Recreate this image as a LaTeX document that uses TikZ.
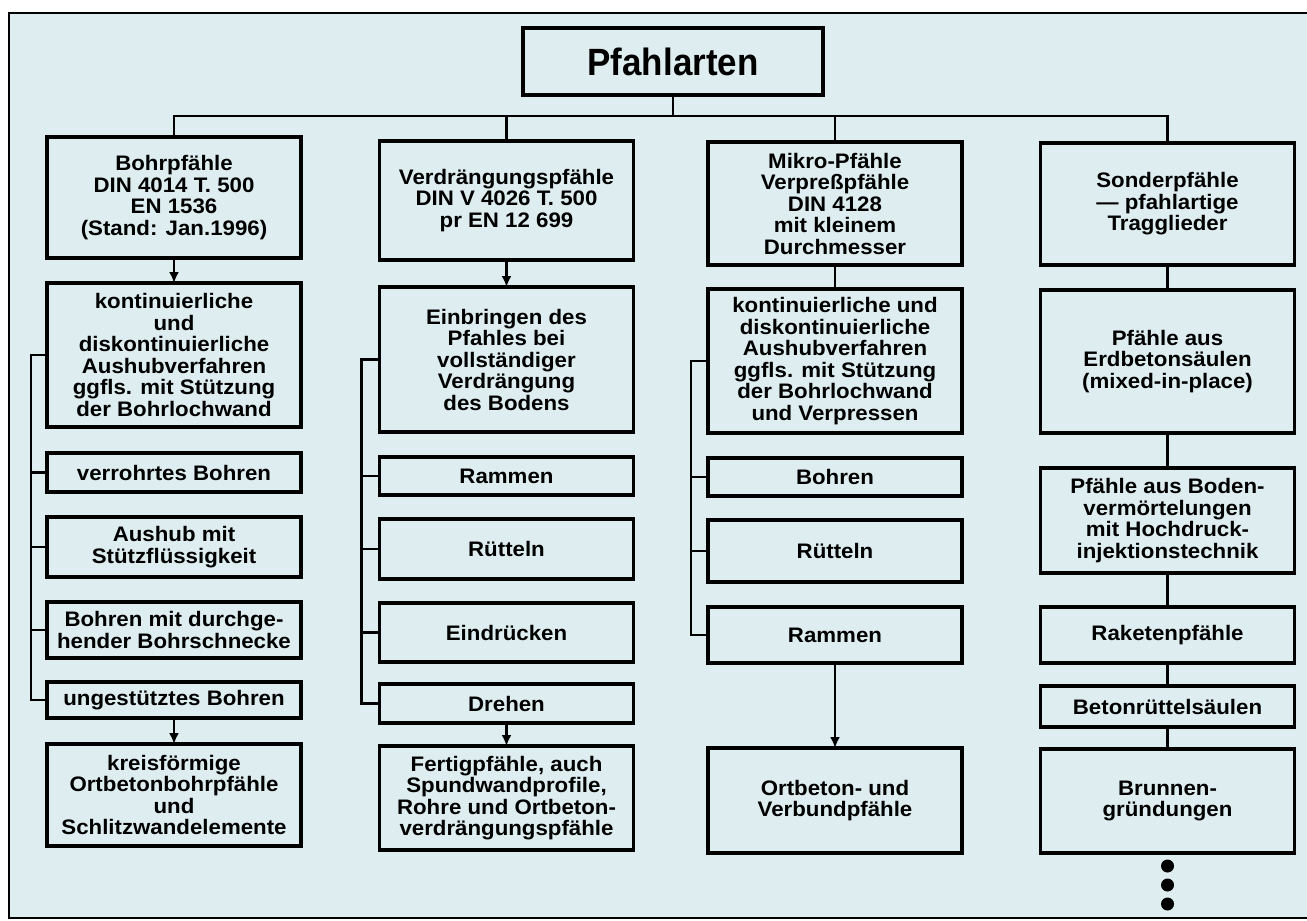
\documentclass[tikz,border=0pt]{standalone}
\usepackage{fontspec}
\setmainfont{Liberation Sans}[FakeStretch=1.06]
\newfontfamily\titlefont{Liberation Sans}[FakeStretch=0.92]
\usepackage{tikz}
\usetikzlibrary{positioning, arrows.meta}
\definecolor{papier}{RGB}{222,238,240}
\newcommand{\boxfnt}{\fontsize{21}{21.5}\selectfont\bfseries}

\begin{document}
\begin{tikzpicture}[x=1pt, y=-1pt,
        block/.style={draw, line width=3.2pt, minimum width=254pt, inner sep=2pt, outer sep=0pt, align=center, font=\boxfnt},
        link/.style={line width=2.8pt},
        >={Latex[length=11pt,width=10pt]}]
        \useasboundingbox (0,0) rectangle (1307,921);
        \fill[papier] (9,13) rectangle (1307,918);
        \draw[line width=2.4pt] (1307,13) -- (9,13) -- (9,918) -- (1307,918);

        \node[block, minimum width=300pt, minimum height=67pt, font=\titlefont\fontsize{38}{40}\selectfont\bfseries] (0) at (673,61.5) {Pfahlarten};

        \node[block, minimum height=121pt] (1) at (174,197.5) {Bohrpfähle\\DIN 4014 T. 500\\EN 1536\\(Stand: Jan.1996)};
        \node[block, minimum height=144pt] (11) [below=25pt of 1] {kontinuierliche\\und\\diskontinuierliche\\Aushubverfahren\\ggfls. mit Stützung\\der Bohrlochwand};
        \node[block, minimum height=39pt] (12) [below=26pt of 11] {verrohrtes Bohren};
        \node[block, minimum height=60pt] (13) [below=25pt of 12] {Aushub mit\\Stützflüssigkeit};
        \node[block, minimum height=56pt] (14) [below=25pt of 13] {Bohren mit durchge-\\hender Bohrschnecke};
        \node[block, minimum height=36pt] (15) [below=24pt of 14] {ungestütztes Bohren};
        \node[block, minimum height=102pt] (16) [below=26pt of 15] {kreisförmige\\Ortbetonbohrpfähle\\und\\Schlitzwandelemente};

        \node[block, minimum height=119pt] (2) at (506.5,200.5) {Verdrängungspfähle\\DIN V 4026 T. 500\\pr EN 12 699};
        \node[block, minimum height=145pt] (21) [below=27pt of 2] {Einbringen des\\Pfahles bei\\vollständiger\\Verdrängung\\des Bodens};
        \node[block, minimum height=38pt] (22) [below=25pt of 21] {Rammen};
        \node[block, minimum height=60pt] (23) [below=24pt of 22] {Rütteln};
        \node[block, minimum height=59pt] (24) [below=24pt of 23] {Eindrücken};
        \node[block, minimum height=39pt] (25) [below=22pt of 24] {Drehen};
        \node[block, minimum height=104pt] (26) [below=23pt of 25] {Fertigpfähle, auch\\Spundwandprofile,\\Rohre und Ortbeton-\\verdrängungspfähle};

        \node[block, minimum height=123pt] (3) at (835,203.5) {Mikro-Pfähle\\Verpreßpfähle\\DIN 4128\\mit kleinem\\Durchmesser};
        \node[block, minimum height=144pt] (31) [below=24pt of 3] {kontinuierliche und\\diskontinuierliche\\Aushubverfahren\\ggfls. mit Stützung\\der Bohrlochwand\\und Verpressen};
        \node[block, minimum height=38pt] (32) [below=25pt of 31] {Bohren};
        \node[block, minimum height=62pt] (33) [below=24pt of 32] {Rütteln};
        \node[block, minimum height=56pt] (34) [below=25pt of 33] {Rammen};
        \node[block, minimum height=105pt] (35) [below=85pt of 34] {Ortbeton- und\\Verbundpfähle};

        \node[block, minimum height=122pt] (4) at (1167.5,204) {Sonderpfähle\\— pfahlartige\\Tragglieder};
        \node[block, minimum height=143pt] (41) [below=25pt of 4] {Pfähle aus\\Erdbetonsäulen\\(mixed-in-place)};
        \node[block, minimum height=105pt] (42) [below=35pt of 41] {Pfähle aus Boden-\\vermörtelungen\\mit Hochdruck-\\injektionstechnik};
        \node[block, minimum height=56pt] (43) [below=34pt of 42] {Raketenpfähle};
        \node[block, minimum height=41pt] (44) [below=23pt of 43] {Betonrüttelsäulen};
        \node[block, minimum height=104pt] (45) [below=22pt of 44] {Brunnen-\\gründungen};

        \coordinate (bar) at (673,116);
        \draw[link] (0) -- (bar);
        \draw[link] (1) |- (bar) -| (4);
        \draw[link] (2) -- (2 |- bar);
        \draw[link] (3) -- (3 |- bar);

        \path[link, ->]
        (1) edge (11)
        (15) edge (16)
        (2) edge (21)
        (25) edge (26)
        (34) edge (35)
        ;
        \path[link]
        (3) edge (31)
        (4) edge (41)
        (41) edge (42)
        (42) edge (43)
        (43) edge (44)
        (44) edge (45)
        ;

        \foreach \n in {12,...,15} \draw[link] (11.west) -- ++(-16,0) |- (\n.west);
        \foreach \n in {22,...,25} \draw[link] (21.west) -- ++(-18,0) |- (\n.west);
        \foreach \n in {32,33,34} \draw[link] (31.west) -- ++(-17,0) |- (\n.west);
        \foreach \d in {13,32,51} \fill (45.south) ++(0,\d) circle (6.5pt);
    \end{tikzpicture}
\end{document}
